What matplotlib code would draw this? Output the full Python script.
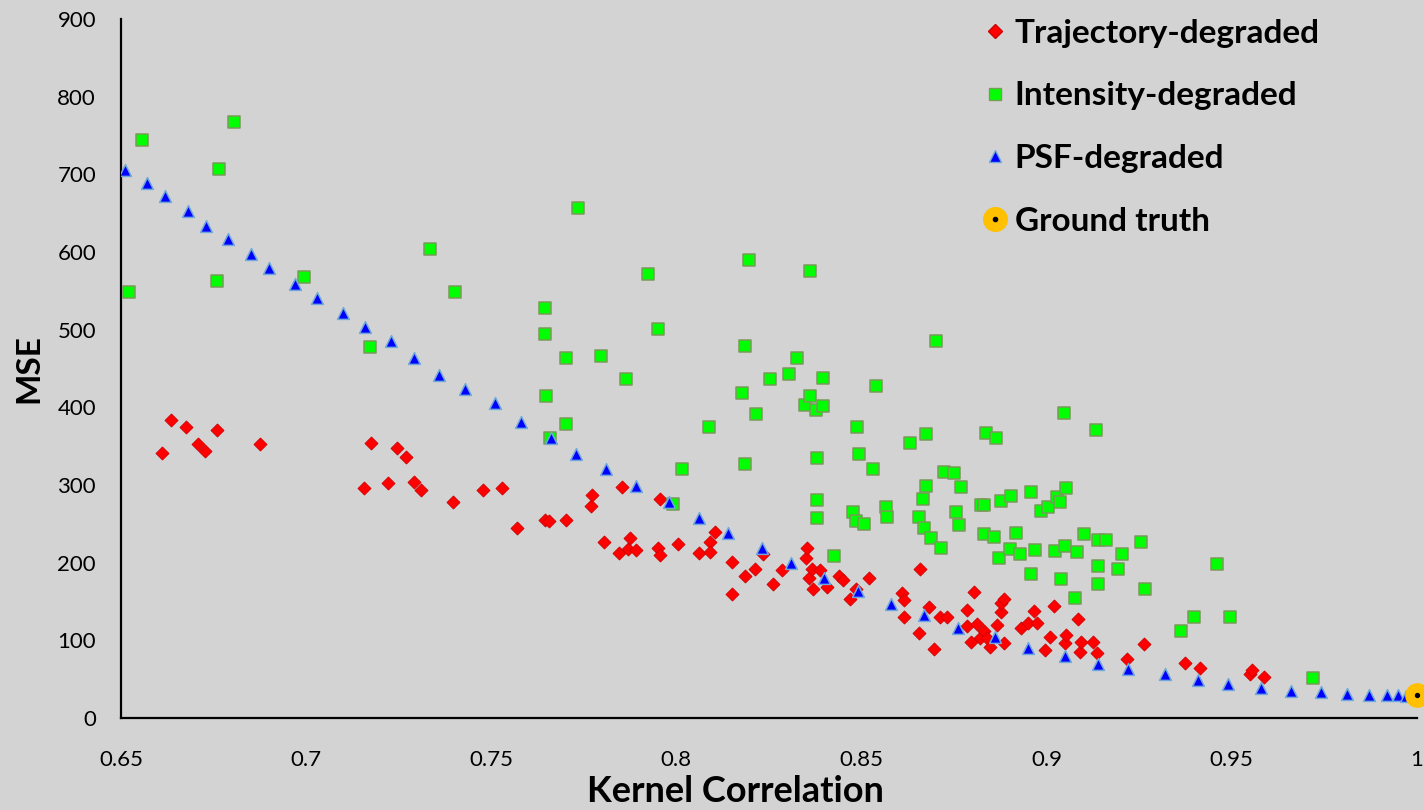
import matplotlib.pyplot as plt
from matplotlib.lines import Line2D

plt.rcParams.update({
    'font.family': ['Lato', 'DejaVu Sans'],
    'axes.linewidth': 1.6,
    'axes.edgecolor': 'black',
})

# ---------- data ----------
traj_x = [0.661, 0.6635, 0.6676, 0.6708, 0.6727, 0.676, 0.6876, 0.7157, 0.7176, 0.7222,
          0.7246, 0.727, 0.7292, 0.731, 0.7397, 0.7478, 0.753, 0.757, 0.7646, 0.7657,
          0.7703, 0.7768, 0.7773, 0.7805, 0.7846, 0.7854, 0.7868, 0.7876, 0.7892, 0.7951,
          0.7957, 0.7957, 0.8003, 0.8062, 0.8092, 0.8092, 0.8103, 0.8151, 0.8151, 0.8186,
          0.8211, 0.8235, 0.8262, 0.8286, 0.8349, 0.8354, 0.8357, 0.8365, 0.837, 0.8389,
          0.8408, 0.8438, 0.8449, 0.8468, 0.8486, 0.8519, 0.8608, 0.8614, 0.8616, 0.8654,
          0.8657, 0.8681, 0.8695, 0.8711, 0.873, 0.8786, 0.8786, 0.8795, 0.8803, 0.8811,
          0.8819, 0.8832, 0.8838, 0.8846, 0.8865, 0.8876, 0.8878, 0.8884, 0.8886, 0.893,
          0.8951, 0.8965, 0.8973, 0.8995, 0.9008, 0.9019, 0.9049, 0.9051, 0.9086, 0.9089,
          0.9092, 0.9124, 0.9135, 0.9216, 0.9262, 0.9373, 0.9414, 0.9549, 0.9554, 0.9586]
traj_y = [341, 384, 375, 353, 344, 371, 353, 296, 354, 303,
          347, 336, 304, 294, 278, 294, 296, 244, 255, 253,
          255, 273, 287, 226, 213, 298, 218, 232, 216, 219,
          210, 282, 224, 213, 226, 214, 240, 201, 159, 183,
          192, 211, 173, 191, 206, 219, 180, 192, 166, 191,
          169, 183, 178, 153, 166, 180, 161, 152, 130, 110,
          192, 143, 89, 130, 130, 139, 119, 98, 162, 121,
          103, 112, 103, 91, 120, 137, 148, 97, 153, 116,
          122, 138, 122, 88, 104, 144, 97, 107, 128, 85,
          98, 98, 84, 76, 95, 71, 64, 57, 62, 53]

inten_x = [0.6522, 0.6557, 0.676, 0.6765, 0.6805, 0.6995, 0.7173, 0.7335, 0.7403, 0.7646,
           0.7646, 0.7649, 0.7659, 0.7703, 0.7703, 0.7735, 0.7795, 0.7865, 0.7924, 0.7951,
           0.7992, 0.8014, 0.8089, 0.8178, 0.8186, 0.8186, 0.8197, 0.8216, 0.8254, 0.8305,
           0.8327, 0.8346, 0.8362, 0.8362, 0.8376, 0.8381, 0.8381, 0.8381, 0.8395, 0.8397,
           0.8427, 0.8478, 0.8486, 0.8489, 0.8492, 0.8508, 0.8532, 0.8538, 0.8565, 0.8568,
           0.863, 0.8654, 0.8665, 0.8668, 0.8673, 0.8673, 0.8689, 0.87, 0.8716, 0.8722,
           0.8751, 0.8754, 0.8762, 0.8768, 0.8822, 0.8832, 0.8832, 0.8835, 0.8859, 0.8862,
           0.887, 0.8876, 0.89, 0.8905, 0.8916, 0.8927, 0.8957, 0.8957, 0.8968, 0.8984,
           0.9005, 0.9022, 0.9027, 0.9035, 0.9038, 0.9046, 0.9049, 0.9051, 0.9076, 0.9081,
           0.91, 0.9132, 0.9138, 0.9138, 0.914, 0.9159, 0.9192, 0.9203, 0.9254, 0.9265,
           0.9362, 0.9397, 0.9459, 0.9495, 0.9719]
inten_y = [548, 744, 562, 707, 767, 568, 477, 604, 548, 528,
           494, 415, 360, 463, 378, 657, 466, 437, 571, 501,
           276, 320, 375, 418, 479, 327, 590, 392, 437, 443,
           464, 403, 576, 414, 396, 335, 281, 258, 402, 438,
           209, 265, 253, 374, 340, 250, 320, 427, 272, 259,
           354, 259, 282, 245, 365, 299, 232, 486, 219, 317,
           316, 265, 249, 298, 274, 274, 237, 367, 233, 360,
           206, 280, 218, 286, 238, 211, 291, 186, 216, 267,
           271, 215, 284, 278, 179, 393, 222, 296, 155, 214,
           237, 371, 196, 173, 229, 229, 192, 211, 227, 166,
           112, 130, 198, 130, 52]

psf_x = [0.651, 0.657, 0.662, 0.668, 0.673, 0.679, 0.685, 0.690, 0.697, 0.703,
         0.710, 0.716, 0.723, 0.729, 0.736, 0.743, 0.751, 0.758, 0.766, 0.773,
         0.781, 0.789, 0.798, 0.806, 0.814, 0.823, 0.831, 0.840, 0.849, 0.858,
         0.867, 0.876, 0.886, 0.895, 0.905, 0.914, 0.922, 0.932, 0.941, 0.949,
         0.958, 0.966, 0.974, 0.981, 0.987, 0.992, 0.995, 0.997]
psf_y = [705, 689, 672, 653, 634, 617, 598, 579, 559, 541,
         522, 503, 485, 464, 442, 423, 405, 381, 361, 340,
         321, 299, 278, 258, 238, 219, 200, 180, 164, 147,
         133, 116, 104, 90, 80, 70, 63, 57, 49, 44,
         39, 35, 33, 31, 30, 30, 30, 28]

gt_x = [1.0]
gt_y = [30]

# ---------- plot ----------
fig = plt.figure(figsize=(14.24, 8.10), dpi=100)
fig.patch.set_facecolor('#d3d3d3')
ax = fig.add_axes([0.0850, 0.1136, 0.9100, 0.8630])
ax.set_facecolor('#d3d3d3')

ax.scatter(traj_x, traj_y, marker='D', s=44, color='#ff0000',
           edgecolor='#d00000', linewidth=0.6, zorder=3)
ax.scatter(inten_x, inten_y, marker='s', s=72, color='#00ff00',
           edgecolor='#7a9a5a', linewidth=1.1, zorder=3)
ax.scatter(psf_x, psf_y, marker='^', s=72, color='#0000ff',
           edgecolor='#6fa8dc', linewidth=1.1, zorder=4)
ax.scatter(gt_x, gt_y, marker='o', s=280, color='#ffc000',
           edgecolor='#ffc000', zorder=5, clip_on=False)
ax.scatter(gt_x, gt_y, marker='o', s=8, color='black', zorder=6, clip_on=False)

ax.set_xlim(0.65, 1.0)
ax.set_ylim(0, 900)
ax.set_xticks([0.65, 0.7, 0.75, 0.8, 0.85, 0.9, 0.95, 1.0])
ax.set_xticklabels(['0.65', '0.7', '0.75', '0.8', '0.85', '0.9', '0.95', '1'])
ax.set_yticks(range(0, 901, 100))
ax.tick_params(axis='both', length=0, labelsize=16, colors='black')
ax.tick_params(axis='x', pad=23)
ax.tick_params(axis='y', pad=18)
for s in ['top', 'right']:
    ax.spines[s].set_visible(False)

ax.set_xlabel('Kernel Correlation', fontsize=26, fontweight='bold')
ax.xaxis.set_label_coords(0.4745, -0.082)
ax.set_ylabel('MSE', fontsize=24, fontweight='bold', labelpad=10)

# ---------- legend ----------
handles = [
    Line2D([], [], ls='none', marker='D', markersize=7, color='#ff0000',
           markeredgecolor='#d00000'),
    Line2D([], [], ls='none', marker='s', markersize=8, color='#00ff00',
           markeredgecolor='#7a9a5a'),
    Line2D([], [], ls='none', marker='^', markersize=8, color='#0000ff',
           markeredgecolor='#6fa8dc'),
    (Line2D([], [], ls='none', marker='o', markersize=17, color='#ffc000'),
     Line2D([], [], ls='none', marker='o', markersize=3, color='black')),
]
labels = ['Trajectory-degraded', 'Intensity-degraded', 'PSF-degraded', 'Ground truth']
leg = fig.legend(handles, labels, loc='upper left', bbox_to_anchor=(0.668, 1.014),
                 frameon=False, prop={'size': 24, 'weight': 'bold'},
                 labelspacing=1.01, handletextpad=0.2, handlelength=0.8)

fig.savefig('out.png', dpi=100, facecolor=fig.get_facecolor())
